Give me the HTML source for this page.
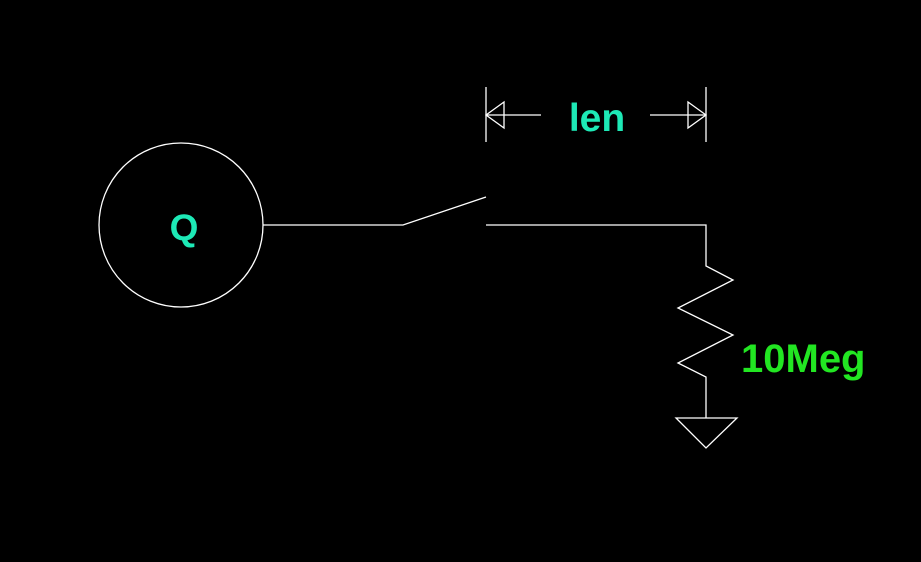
<!DOCTYPE html>
<html><head><style>body{margin:0;background:#000}svg{display:block}</style></head><body>
<svg width="921" height="562" viewBox="0 0 921 562" xmlns="http://www.w3.org/2000/svg">
<rect width="921" height="562" fill="#000"/>
<g stroke="#fff" stroke-width="1.3" fill="none">
<circle cx="181" cy="225" r="82"/>
<polyline points="263,225 403,225 486,197"/>
<polyline points="486,225 706,225 706,266 733,280 678,308 733,335 678,363 706,377 706,418"/>
<polygon points="676,418 737,418 706,448"/>
<line x1="486" y1="87" x2="486" y2="142"/>
<line x1="706" y1="87" x2="706" y2="142"/>
<line x1="486" y1="115" x2="541" y2="115"/>
<line x1="650" y1="115" x2="706" y2="115"/>
<polygon points="486,115 504,102 504,128"/>
<polygon points="706,115 688,102 688,128"/>
</g>
<g font-family="Liberation Sans, sans-serif" font-weight="bold">
<text x="184" y="240" fill="#1de9b6" text-anchor="middle" font-size="37">Q</text>
<text x="597" y="131" fill="#1de9b6" text-anchor="middle" font-size="39">len</text>
<text x="741" y="372" fill="#22e622" font-size="40">10Meg</text>
</g>
</svg>
</body></html>
